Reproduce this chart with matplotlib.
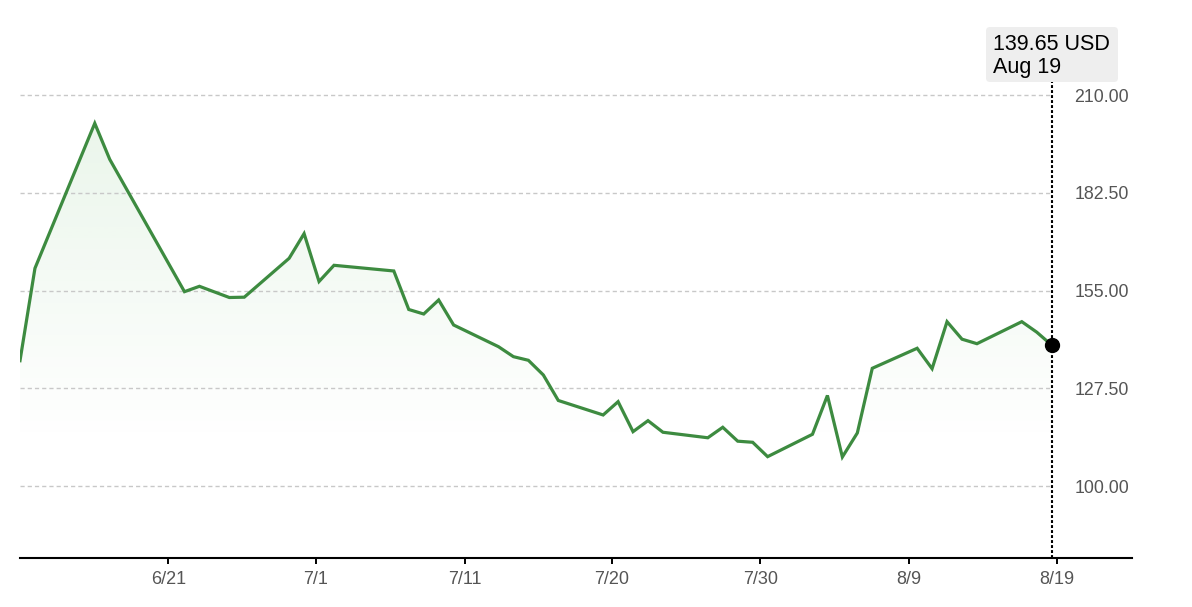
import numpy as np
import matplotlib
matplotlib.use("Agg")
import matplotlib.pyplot as plt
from matplotlib import transforms
from matplotlib.patches import FancyBboxPatch

# ---- data ----
days = [0, 1, 5, 6, 11, 12, 14, 15, 18, 19, 20, 21, 25, 26, 27, 28, 29,
        32, 33, 34, 35, 36, 39, 40, 41, 42, 43, 46, 47, 48, 49, 50,
        53, 54, 55, 56, 57, 60, 61, 62, 63, 64, 67, 68, 69]
prices = [135.28, 161.27, 202.04, 191.92, 154.69, 156.20, 153.05, 153.14,
          164.08, 171.02, 157.55, 162.11, 160.51, 149.68, 148.41, 152.35, 145.32,
          139.22, 136.41, 135.39, 131.26, 124.09, 120.01, 123.75, 115.32, 118.41, 115.15,
          113.60, 116.55, 112.64, 112.33, 108.29,
          114.58, 125.50, 108.20, 114.95, 133.14, 138.77, 133.03, 146.25, 141.33, 140.06,
          146.25, 143.30, 139.65]
x_tick_pos = [9.93, 19.80, 29.74, 39.59, 49.52, 59.44, 69.35]
x_tick_labels = ["6/21", "7/1", "7/11", "7/20", "7/30", "8/9", "8/19"]
y_ticks = [100.0, 127.5, 155.0, 182.5, 210.0]
tooltip_value = "139.65 USD"
tooltip_date = "Aug 19"

plt.rcParams['font.family'] = ['Liberation Sans', 'DejaVu Sans']

W, H = 1192, 607
fig = plt.figure(figsize=(W / 100, H / 100), dpi=100)
ax = fig.add_axes([20 / W, (H - 558.3) / H, 1112 / W, (558.3 - 20) / H])

x0, x1 = 0, 74.37
y0, y1 = 79.7, 231.1
ax.set_xlim(x0, x1)
ax.set_ylim(y0, y1)

line_color = '#3d8b40'

# gradient fill under the line
poly = ax.fill_between(days, prices, y0, facecolor='none', edgecolor='none')
ytop = max(prices)
n = 300
vals = np.linspace(ytop, y0, n)
alpha = 0.12 * np.clip((vals - 112) / (205 - 112), 0, 1)
grad = np.zeros((n, 1, 4))
grad[:, 0, 0] = 76 / 255
grad[:, 0, 1] = 175 / 255
grad[:, 0, 2] = 80 / 255
grad[:, 0, 3] = alpha
im = ax.imshow(grad, extent=[days[0], days[-1], y0, ytop], aspect='auto',
               origin='upper', zorder=1, interpolation='bilinear')
im.set_clip_path(poly.get_paths()[0], transform=ax.transData)

# gridlines (stop at last point)
ax.hlines(y_ticks, days[0], days[-1], colors='#c8c8c8', linewidth=1.0,
          linestyles=(0, (3, 2.2)), zorder=2)

ax.plot(days, prices, color=line_color, linewidth=2.3, zorder=4,
        solid_joinstyle='miter')

# crosshair
ymax_frac = (558.3 - 82) / (558.3 - 20)
ax.axvline(days[-1], ymin=0, ymax=ymax_frac, color='black', linewidth=1.5,
           linestyle=(0, (1.4, 1.0)), zorder=3, clip_on=False)
ax.plot([days[-1]], [prices[-1]], 'o', color='black', markersize=10, zorder=5)

# axes styling
for s in ['top', 'left', 'right']:
    ax.spines[s].set_visible(False)
ax.spines['bottom'].set_linewidth(1.5)
ax.spines['bottom'].set_color('black')

ax.set_xticks(x_tick_pos)
ax.set_xticklabels(x_tick_labels)
ax.tick_params(axis='x', direction='out', length=4.3, width=1.4, color='black',
               labelsize=13, labelcolor='#555555', pad=5)

ax.yaxis.tick_right()
ax.set_yticks(y_ticks)
ax.set_yticklabels([f"{v:.2f}" for v in y_ticks])
ax.tick_params(axis='y', length=0, pad=-2, labelsize=12.8, labelcolor='#555555')
for lab in ax.get_yticklabels():
    lab.set_horizontalalignment('right')

# tooltip box (pixel coordinates, y down)
px = transforms.Affine2D().scale(1 / W, -1 / H).translate(0, 1) + fig.transFigure
box = FancyBboxPatch((986, 27), 132, 55, boxstyle="round,pad=0,rounding_size=4",
                     transform=px, facecolor='#eeeeee', edgecolor='none', zorder=10)
fig.patches.append(box)
fig.text(993, 50.5, tooltip_value, transform=px, fontsize=15.5, color='black',
         va='baseline', ha='left', zorder=11)
fig.text(993, 73.5, tooltip_date, transform=px, fontsize=15.5, color='black',
         va='baseline', ha='left', zorder=11)

fig.savefig('out.png', dpi=100)
